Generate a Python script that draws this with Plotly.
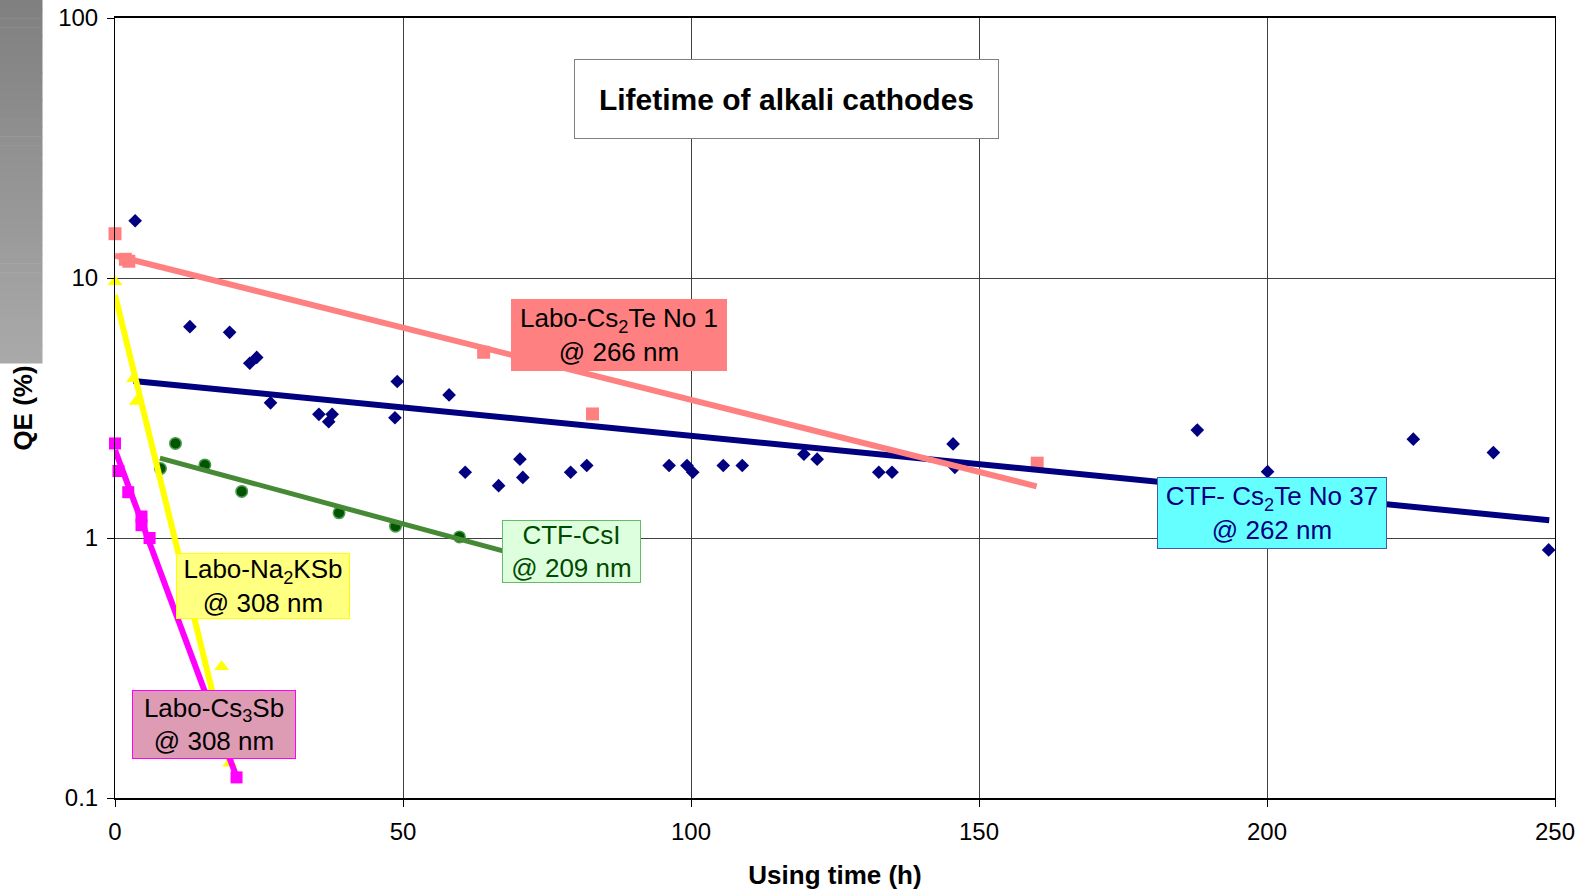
import plotly.graph_objects as go

# ---------------- data ----------------
# CTF- Cs2Te No 37 @ 262 nm (navy diamonds)
cs2te37_t = [3.5, 13.0, 19.9, 23.4, 24.6, 27.0, 35.4, 37.1, 37.7, 48.6, 49.0, 58.0,
             60.8, 66.6, 70.3, 70.8, 79.1, 81.9, 96.2, 99.3, 100.3, 105.6, 108.9,
             119.6, 121.9, 132.6, 134.9, 145.5, 145.8, 187.9, 200.1, 225.4, 239.3, 248.9]
cs2te37_qe = [16.6, 6.5, 6.18, 4.7, 4.95, 3.31, 2.99, 2.8, 2.99, 2.9, 4.0, 3.55,
              1.79, 1.59, 2.01, 1.71, 1.79, 1.9, 1.9, 1.9, 1.79, 1.9, 1.9,
              2.1, 2.01, 1.79, 1.79, 2.3, 1.87, 2.6, 1.8, 2.4, 2.13, 0.9]
cs2te37_trend_t = [3.2, 249.0]
cs2te37_trend_qe = [4.02, 1.17]

# Labo-Cs2Te No 1 @ 266 nm (salmon squares)
cs2te1_t = [0.0, 1.8, 2.4, 64.0, 82.9, 160.1]
cs2te1_qe = [14.8, 11.8, 11.6, 5.18, 3.0, 1.94]
cs2te1_trend_t = [0.0, 160.0]
cs2te1_trend_qe = [12.2, 1.58]

# CTF-CsI @ 209 nm (green circles)
csi_t = [7.9, 10.5, 15.6, 22.0, 38.9, 48.7, 59.8]
csi_qe = [1.85, 2.31, 1.91, 1.51, 1.25, 1.11, 1.01]
csi_trend_t = [7.8, 67.5]
csi_trend_qe = [2.03, 0.89]

# Labo-Na2KSb @ 308 nm (yellow triangles)
na2ksb_t = [0.0, 3.2, 3.7, 18.5, 19.9]
na2ksb_qe = [9.68, 4.1, 3.35, 0.32, 0.136]
na2ksb_trend_t = [0.0, 19.95]
na2ksb_trend_qe = [8.6, 0.136]

# Labo-Cs3Sb @ 308 nm (magenta squares)
cs3sb_t = [0.0, 0.6, 2.3, 4.6, 4.6, 6.0, 21.1]
cs3sb_qe = [2.31, 1.81, 1.5, 1.21, 1.12, 1.0, 0.12]
cs3sb_trend_t = [0.0, 20.9]
cs3sb_trend_qe = [2.18, 0.124]

x_ticks = [0, 50, 100, 150, 200, 250]
y_ticks = [0.1, 1, 10, 100]
y_tick_labels = ["0.1", "1", "10", "100"]

# ---------------- layout geometry ----------------
W, H = 1586, 894
ML, MR, MT, MB = 115, 31, 18, 96
PW, PH = W - ML - MR, H - MT - MB
FONT = "Liberation Sans, Arial, sans-serif"


def px2paper(px, py):
    return (px - ML) / PW, 1 - (py - MT) / PH


fig = go.Figure()

# markers first
mk = dict(mode="markers", showlegend=False, cliponaxis=False)
fig.add_trace(go.Scatter(x=cs2te37_t, y=cs2te37_qe, name="CTF- Cs2Te No 37",
                         marker=dict(symbol="diamond", size=10.5, color="#000080"), **mk))
fig.add_trace(go.Scatter(x=cs2te1_t, y=cs2te1_qe, name="Labo-Cs2Te No 1",
                         marker=dict(symbol="square", size=13, color="#FF8080"), **mk))
fig.add_trace(go.Scatter(x=csi_t, y=csi_qe, name="CTF-CsI",
                         marker=dict(symbol="circle", size=11.5, color="#005500",
                                     line=dict(color="#4C9A4C", width=1.5)), **mk))
fig.add_trace(go.Scatter(x=na2ksb_t, y=na2ksb_qe, name="Labo-Na2KSb",
                         marker=dict(symbol="triangle-up", size=13, color="#FFFF00"), **mk))
fig.add_trace(go.Scatter(x=cs3sb_t, y=cs3sb_qe, name="Labo-Cs3Sb",
                         marker=dict(symbol="square", size=12, color="#FF00FF"), **mk))

# trend lines
trend_style = dict(mode="lines", showlegend=False, hoverinfo="skip", cliponaxis=False)
LW = 6
fig.add_trace(go.Scatter(x=cs2te37_trend_t, y=cs2te37_trend_qe,
                         line=dict(color="#000080", width=LW), **trend_style))
fig.add_trace(go.Scatter(x=csi_trend_t, y=csi_trend_qe,
                         line=dict(color="#468A36", width=LW - 1), **trend_style))
fig.add_trace(go.Scatter(x=cs2te1_trend_t, y=cs2te1_trend_qe,
                         line=dict(color="#FF8080", width=LW), **trend_style))
fig.add_trace(go.Scatter(x=na2ksb_trend_t, y=na2ksb_trend_qe,
                         line=dict(color="#FFFF00", width=LW), **trend_style))
fig.add_trace(go.Scatter(x=cs3sb_trend_t, y=cs3sb_trend_qe,
                         line=dict(color="#FF00FF", width=LW), **trend_style))

# text boxes (pixel boxes: left, top, right, bottom)
boxes = [
    dict(text="<b>Lifetime of alkali cathodes</b>", box=(574, 59, 999, 139),
         bg="#FFFFFF", border="#808080", color="#000000", size=30),
    dict(text="Labo-Cs<sub>2</sub>Te No 1<br>@ 266 nm", box=(511, 299, 727, 371),
         bg="#FF8080", border="#FF8080", color="#000000", size=26),
    dict(text="CTF-CsI<br>@ 209 nm", box=(502, 520, 641, 583),
         bg="#DDFFDD", border="#66BB66", color="#004A00", size=26),
    dict(text="CTF- Cs<sub>2</sub>Te No 37<br>@ 262 nm", box=(1157, 477, 1387, 549),
         bg="#66FFFF", border="#3A5FA8", color="#000080", size=26),
    dict(text="Labo-Na<sub>2</sub>KSb<br>@ 308 nm", box=(176, 553, 350, 619),
         bg="#FFFF80", border="#FFFF00", color="#000000", size=26),
    dict(text="Labo-Cs<sub>3</sub>Sb<br>@ 308 nm", box=(132, 690, 296, 759),
         bg="#DE9BB4", border="#FF00FF", color="#000000", size=26),
]
annotations = []
for b in boxes:
    l, t, r, btm = b["box"]
    cx, cy = px2paper((l + r) / 2, (t + btm) / 2)
    annotations.append(dict(
        text=b["text"], xref="paper", yref="paper", x=cx, y=cy,
        xanchor="center", yanchor="middle", showarrow=False,
        width=r - l - 2, height=btm - t - 2, align="center", valign="middle",
        bgcolor=b["bg"], bordercolor=b["border"], borderwidth=1, borderpad=0,
        font=dict(family=FONT, size=b["size"], color=b["color"])))

# grey gradient strip at top-left
shapes = []
n_steps = 40
top_px, bot_px = 0, 363
for i in range(n_steps):
    y0p = top_px + (bot_px - top_px) * i / n_steps
    y1p = top_px + (bot_px - top_px) * (i + 1) / n_steps
    g = int(round(127 + (170 - 127) * (i + 0.5) / n_steps))
    x0, yy0 = px2paper(0, y0p)
    x1, yy1 = px2paper(42.5, y1p + 0.6)
    shapes.append(dict(type="rect", xref="paper", yref="paper",
                       x0=x0, x1=x1, y0=yy1, y1=yy0,
                       fillcolor=f"rgb({g},{g},{g})", line=dict(width=0),
                       layer="below"))

fig.update_layout(
    width=W, height=H,
    margin=dict(l=ML, r=MR, t=MT, b=MB, pad=0, autoexpand=False),
    paper_bgcolor="#FFFFFF", plot_bgcolor="#FFFFFF",
    font=dict(family=FONT, color="#000000"),
    annotations=annotations, shapes=shapes,
    showlegend=False,
)
fig.update_xaxes(
    range=[0, 250], tickvals=x_ticks, ticktext=[str(v) for v in x_ticks],
    showgrid=True, gridcolor="#404040", gridwidth=1,
    showline=True, linecolor="#000000", linewidth=1.5, mirror=True,
    ticks="outside", ticklen=7, tickcolor="#000000",
    tickfont=dict(family=FONT, size=24, color="#000000"),
    ticklabelstandoff=4, zeroline=False, automargin=False,
    title=dict(text="<b>Using time (h)</b>", font=dict(family=FONT, size=26, color="#000000"),
               standoff=22),
)
fig.update_yaxes(
    type="log", range=[-1, 2], tickvals=y_ticks, ticktext=y_tick_labels,
    showgrid=True, gridcolor="#404040", gridwidth=1,
    showline=True, linecolor="#000000", linewidth=1, mirror=True,
    ticks="outside", ticklen=7, tickcolor="#000000",
    tickfont=dict(family=FONT, size=24, color="#000000"),
    ticklabelstandoff=4, zeroline=False, automargin=False,
    title=dict(text="<b>QE (%)</b>", font=dict(family=FONT, size=26, color="#000000"),
               standoff=18),
)

fig.write_html("out.html")
